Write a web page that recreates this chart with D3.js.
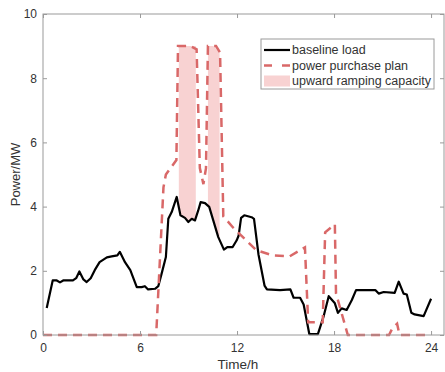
<!DOCTYPE html>
<html>
<head>
<meta charset="utf-8">
<script src="https://cdn.jsdelivr.net/npm/d3@7"></script>
<style>
  body { margin: 0; background: #fff; }
  svg { font-family: Arial, 'Liberation Sans', sans-serif; display: block; }
  .axis path, .axis line { stroke: #9a9a9a; }
  .axis text { fill: #333; font-size: 12px; }
</style>
</head>
<body>
<div class="dataviz"></div>
<script>
// baseline load (h, MW)
const loadTime = [0.23, 0.6, 0.85, 1.05, 1.25, 1.85, 2.05, 2.25, 2.5, 2.7, 2.95, 3.2, 3.5, 3.95, 4.25, 4.6, 4.75, 5.07, 5.4, 5.8,
  6.1, 6.3, 6.5, 6.93, 7.13, 7.34, 7.6, 7.75, 7.96, 8.27, 8.5, 8.78, 8.99, 9.2, 9.4, 9.6, 9.75, 10.02, 10.28, 10.53,
  10.84, 11.19, 11.4, 11.73, 11.98, 12.1, 12.25, 12.45, 12.9, 13.05, 13.33, 13.7, 13.85, 14.66, 15.3, 15.5, 15.9, 16.12, 16.47, 17.0,
  17.36, 17.67, 18.04, 18.24, 18.47, 18.78, 19.1, 19.36, 20.55, 20.76, 21.07, 21.75, 22.0, 22.3, 22.5, 22.78, 22.98, 23.54, 24.0]
const loadValue = [0.84, 1.7, 1.7, 1.64, 1.7, 1.7, 1.77, 1.98, 1.73, 1.65, 1.77, 2.02, 2.27, 2.42, 2.45, 2.48, 2.59, 2.27, 2.02, 1.49,
  1.49, 1.52, 1.42, 1.44, 1.52, 1.92, 2.43, 3.62, 3.83, 4.3, 3.73, 3.65, 3.52, 3.62, 3.57, 3.88, 4.14, 4.11, 3.99, 3.57,
  3.05, 2.66, 2.74, 2.74, 2.95, 3.1, 3.65, 3.73, 3.67, 3.62, 2.5, 1.54, 1.42, 1.4, 1.42, 1.16, 1.16, 0.95, 0.03, 0.03,
  0.59, 1.21, 1.0, 0.69, 0.83, 0.78, 1.09, 1.4, 1.4, 1.29, 1.34, 1.31, 1.66, 1.29, 1.26, 0.69, 0.64, 0.59, 1.13]

// power purchase plan (h, MW)
const planTime = [0, 7.0, 7.45, 7.6, 8.25, 8.35, 9.1, 9.5, 9.7, 9.92, 10.08, 10.2, 10.7, 10.95, 11.15, 11.75, 13.2, 14.2, 15.25, 16.2,
  16.4, 17.3, 17.45, 18.05, 18.12, 18.85, 21.4, 21.6, 21.9, 22.05, 24]
const planValue = [0, 0, 4.6, 5.0, 5.45, 9.0, 9.0, 8.9, 5.2, 4.7, 5.2, 9.0, 9.0, 8.8, 3.7, 3.35, 2.64, 2.48, 2.45, 2.73,
  0.4, 0.4, 3.2, 3.45, 1.3, 0, 0, 0.2, 0.35, 0, 0]

// upward ramping capacity bands
const rampTime1 = [8.4, 8.5, 8.78, 8.99, 9.2, 9.45]
const rampLow1 = [3.95, 3.73, 3.65, 3.52, 3.62, 3.6]
const rampHigh1 = [9, 9, 9, 9, 9, 9]
const rampTime2 = [10.2, 10.28, 10.53, 10.84, 10.92]
const rampLow2 = [4.03, 3.99, 3.57, 3.05, 2.97]
const rampHigh2 = [9, 9, 9, 8.85, 8.8]

const xTicks = [0, 6, 12, 18, 24]
const yTicks = [0, 2, 4, 6, 8, 10]
const legendLabels = ['baseline load', 'power purchase plan', 'upward ramping capacity']

const width = 445
const height = 372
const red = '#d96868'
const pink = '#f8d2d2'

const svg = d3.select('.dataviz').append('svg').attr('width', width).attr('height', height)

// scales
const xScale = d3.scaleLinear().domain([0, 24.8]).range([43, 444])
const yScale = d3.scaleLinear().domain([0, 10]).range([335, 14])

// ramping bands
const area = d3.area().x(d => xScale(d.t)).y0(d => yScale(d.lo)).y1(d => yScale(d.hi))
const bands = [
  rampTime1.map((t, i) => ({ t, lo: rampLow1[i], hi: rampHigh1[i] })),
  rampTime2.map((t, i) => ({ t, lo: rampLow2[i], hi: rampHigh2[i] }))
]
svg.selectAll('.band').data(bands).enter().append('path')
  .attr('class', 'band').attr('d', area).attr('fill', pink)

// lines
const line = d3.line().x(d => xScale(d[0])).y(d => yScale(d[1]))

svg.append('path')
  .datum(loadTime.map((t, i) => [t, loadValue[i]]))
  .attr('d', line).attr('fill', 'none').attr('stroke', '#000')
  .attr('stroke-width', 2.2).attr('stroke-linejoin', 'round')

svg.append('path')
  .datum(planTime.map((t, i) => [t, planValue[i]]))
  .attr('d', line).attr('fill', 'none').attr('stroke', red)
  .attr('stroke-width', 2.5).attr('stroke-dasharray', '9,6')

// axes (ticks pointing inward, mirrored box)
svg.append('g').attr('class', 'axis').attr('transform', 'translate(0,335)')
  .call(d3.axisBottom(xScale).tickValues(xTicks).tickSize(-4).tickPadding(8).tickFormat(d3.format('d')))
svg.append('g').attr('class', 'axis').attr('transform', 'translate(43,0)')
  .call(d3.axisLeft(yScale).tickValues(yTicks).tickSize(-4).tickPadding(6).tickFormat(d3.format('d')))
svg.append('g').attr('class', 'axis').attr('transform', 'translate(0,14)')
  .call(d3.axisTop(xScale).tickValues(xTicks).tickSize(-4).tickFormat(''))
svg.append('g').attr('class', 'axis').attr('transform', 'translate(444,0)')
  .call(d3.axisRight(yScale).tickValues(yTicks).tickSize(-4).tickFormat(''))

// plain box outline instead of the axis domains
svg.selectAll('.axis .domain').remove()
svg.append('rect')
  .attr('x', xScale(0)).attr('y', yScale(10))
  .attr('width', xScale(24.8) - xScale(0)).attr('height', yScale(0) - yScale(10))
  .attr('fill', 'none').attr('stroke', '#9a9a9a')

// axis labels
svg.append('text').attr('x', 238).attr('y', 369).attr('text-anchor', 'middle')
  .attr('font-size', 13.5).attr('fill', '#333').text('Time/h')
svg.append('text').attr('transform', `translate(20,${(yScale(0) + yScale(10)) / 2}) rotate(-90)`)
  .attr('text-anchor', 'middle').attr('font-size', 13).attr('fill', '#333').text('Power/MW')

// legend
const legend = svg.append('g').attr('transform', 'translate(261,39)')
legend.append('rect').attr('width', 173).attr('height', 50)
  .attr('fill', '#fff').attr('stroke', '#9a9a9a')
const rows = legend.selectAll('.row').data(legendLabels).enter().append('g')
  .attr('transform', (d, i) => `translate(0,${11 + i * 15.5})`)
rows.append('text').attr('x', 31).attr('y', 0).attr('dy', '0.35em')
  .attr('font-size', 12.5).attr('fill', '#333').text(d => d)
rows.filter((d, i) => i === 0).append('line')
  .attr('x1', 3).attr('x2', 29).attr('stroke', '#000').attr('stroke-width', 2.2)
rows.filter((d, i) => i === 1).append('line')
  .attr('x1', 3).attr('x2', 29).attr('stroke', red).attr('stroke-width', 2.5).attr('stroke-dasharray', '8,10')
rows.filter((d, i) => i === 2).append('rect')
  .attr('x', 3).attr('y', -5.5).attr('width', 26).attr('height', 11).attr('fill', pink)
</script>
</body>
</html>
